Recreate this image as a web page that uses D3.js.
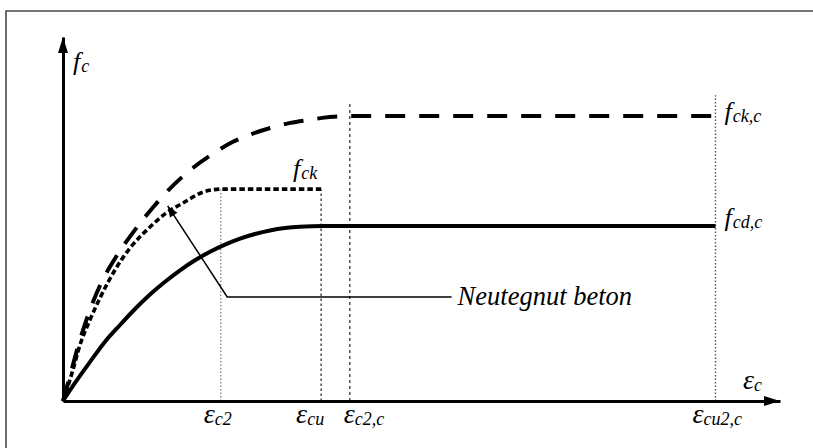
<!DOCTYPE html>
<html>
<head>
<meta charset="utf-8">
<script src="https://cdn.jsdelivr.net/npm/d3@7"></script>
<style>
  body { margin: 0; background: #fff; }
  svg { display: block; }
</style>
</head>
<body>
<svg id="chart" width="813" height="448"></svg>
<script>
// Strain marks on the ε axis (schematic units)
const strainNames = ["c2", "cu", "c2,c", "cu2,c"];
const strainValues = [22, 36, 40, 91];
const strainGuideTop = [58.2, 58.2, 82, 84];

// Stress levels (schematic units)
const stressNames = ["ck,c", "ck", "cd,c"];
const stressValues = [78.3, 58.2, 48.1];

// Confined concrete, characteristic curve (dashed)
const confinedStrain = [0, 1, 2.1, 3.5, 5.2, 7.3, 9.8, 12.6, 15.3, 18.1, 20.9, 23.7, 26.4, 28.9, 31.7, 34.2, 37.2, 40, 91];
const confinedStress = [0, 7.1, 15.0, 23.6, 31.9, 39.3, 46.4, 53.3, 59.1, 64.0, 67.9, 71.2, 73.4, 75.0, 76.4, 77.2, 78.0, 78.3, 78.3];

// Unconfined concrete (dotted)
const plainStrain = [0, 1.26, 2.37, 3.77, 5.16, 7.25, 9.34, 12.13, 14.23, 16.74, 19.53, 20.8, 22, 36];
const plainStress = [0, 7.7, 15.4, 22.3, 28.3, 36.0, 42.0, 47.8, 51.4, 54.4, 57.4, 58.0, 58.2, 58.2];

// Confined concrete, design curve (solid)
const designStrain = [0, 1.67, 3.77, 5.86, 7.95, 10.04, 12.13, 14.23, 16.32, 18.41, 20.5, 22.59, 24.69, 26.78, 28.87, 30.96, 33.05, 36.26, 91];
const designStress = [0, 4.95, 10.74, 16.29, 20.88, 25.27, 29.26, 32.77, 35.91, 38.66, 40.99, 42.97, 44.62, 45.88, 46.84, 47.5, 47.88, 48.08, 48.08];

// Annotation for the unconfined curve
const noteText = "Neutegnut beton";
const noteTip = [14.6, 53.6];
const noteCorner = [22.9, 28.6];
const noteEnd = 54.2;

const FONT = "'Liberation Serif', 'Times New Roman', 'DejaVu Serif', serif";

const svg = d3.select("#chart");
const W = 813, H = 448;

const x = d3.scaleLinear().domain([0, 100]).range([63, 780]);
const y = d3.scaleLinear().domain([0, 100]).range([401, 37]);

// frame
svg.append("path")
  .attr("d", `M6,${H + 2} V11 H${W + 2}`)
  .attr("fill", "none")
  .attr("stroke", "#4a4a4a")
  .attr("stroke-width", 1.6);

// guides at the strain marks
const guideStyles = [
  { color: "#8a8a8a", dash: "1.5,2" },
  { color: "#444", dash: "2.5,2.5" },
  { color: "#444", dash: "3,3" },
  { color: "#555", dash: "1.5,2" }
];
svg.append("g").selectAll("line")
  .data(strainValues)
  .join("line")
  .attr("x1", d => x(d)).attr("x2", d => x(d))
  .attr("y1", y(0)).attr("y2", (d, i) => y(strainGuideTop[i]))
  .attr("stroke", (d, i) => guideStyles[i].color)
  .attr("stroke-dasharray", (d, i) => guideStyles[i].dash)
  .attr("stroke-width", 1.4);

// curves
const line = d3.line()
  .x(d => x(d[0]))
  .y(d => y(d[1]))
  .curve(d3.curveMonotoneX);

const zip = (a, b) => a.map((v, i) => [v, b[i]]);

svg.append("path")
  .attr("d", line(zip(designStrain, designStress)))
  .attr("fill", "none").attr("stroke", "#000").attr("stroke-width", 4);

svg.append("path")
  .attr("d", line(zip(plainStrain, plainStress)))
  .attr("fill", "none").attr("stroke", "#000").attr("stroke-width", 3.6)
  .attr("stroke-dasharray", "5.5,3");

svg.append("path")
  .attr("d", line(zip(confinedStrain, confinedStress)))
  .attr("fill", "none").attr("stroke", "#000").attr("stroke-width", 4)
  .attr("stroke-dasharray", "20,14");

// axes
const xAxis = d3.axisBottom(x).tickValues([]).tickSizeOuter(0);
const yAxis = d3.axisLeft(y).tickValues([]).tickSizeOuter(0);
svg.append("g").attr("transform", `translate(0,${y(0)})`).call(xAxis)
  .select(".domain").attr("stroke", "#000").attr("stroke-width", 3);
svg.append("g").attr("transform", `translate(${x(0)},0)`).call(yAxis)
  .select(".domain").attr("stroke", "#000").attr("stroke-width", 3);

// arrowheads
const ax = x(100), ay = y(0), bx = x(0), by = y(100);
svg.append("path")
  .attr("d", `M${ax},${ay} L${ax - 16},${ay - 5} L${ax - 16},${ay + 5} Z`)
  .attr("fill", "#000");
svg.append("path")
  .attr("d", `M${bx},${by} L${bx - 5},${by + 16} L${bx + 5},${by + 16} Z`)
  .attr("fill", "#000");

// labels
const txt = (px, py) => svg.append("text")
  .attr("x", px).attr("y", py)
  .attr("font-family", FONT)
  .attr("font-style", "italic")
  .attr("fill", "#000");

const fLabel = (px, py, sub) => {
  const t = txt(px, py);
  t.append("tspan").attr("font-size", 26).text("f");
  t.append("tspan").attr("font-size", 18).attr("dx", 1).attr("dy", 2).text(sub);
  return t;
};
const eLabel = (px, py, sub) => {
  const t = txt(px, py);
  t.append("tspan").attr("font-size", 28).text("ε");
  t.append("tspan").attr("font-size", 18).attr("dy", 2).text(sub);
  return t;
};

fLabel(x(0) + 10, y(100) + 33, "c");
eLabel(743, y(0) - 12, "c");

// strain labels
const strainLabelShift = [-17, -25, -6, -23];
strainNames.forEach((n, i) => eLabel(x(strainValues[i]) + strainLabelShift[i], y(0) + 22, n));

// stress labels
fLabel(x(strainValues[3]) + 9, y(stressValues[0]) + 4, stressNames[0]);
fLabel(x(strainValues[1]) - 28, y(stressValues[1]) - 12, stressNames[1]);
fLabel(x(strainValues[3]) + 9, y(stressValues[2]) + 0, stressNames[2]);

// annotation leader with arrow
const tipX = x(noteTip[0]), tipY = y(noteTip[1]);
const cX = x(noteCorner[0]), cY = y(noteCorner[1]);
svg.append("path")
  .attr("d", `M${x(noteEnd)},${cY} H${cX} L${tipX},${tipY}`)
  .attr("fill", "none").attr("stroke", "#000").attr("stroke-width", 1.5);
const ang = Math.atan2(tipY - cY, tipX - cX);
const hl = 11, hw = 4.5;
const bxh = tipX - hl * Math.cos(ang), byh = tipY - hl * Math.sin(ang);
svg.append("path")
  .attr("d", `M${tipX},${tipY} L${bxh + hw * Math.sin(ang)},${byh - hw * Math.cos(ang)} L${bxh - hw * Math.sin(ang)},${byh + hw * Math.cos(ang)} Z`)
  .attr("fill", "#000");
txt(x(noteEnd) + 6, cY + 8)
  .attr("font-size", 26.5)
  .text(noteText);
</script>
</body>
</html>
